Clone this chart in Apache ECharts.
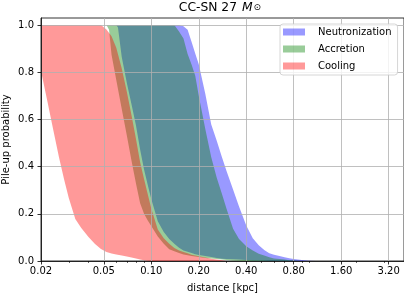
<!DOCTYPE html>
<html>
<head>
<meta charset="utf-8">
<script src="https://cdn.jsdelivr.net/npm/echarts@6/dist/echarts.min.js"></script>
<style>
html,body{margin:0;padding:0;background:#fff;}
#chart{width:404px;height:295px;}
</style>
</head>
<body>
<div id="chart"></div>
<script>
// ---- data ----
const xTickValues = [0.02, 0.05, 0.10, 0.20, 0.40, 0.80, 1.60, 3.20];
const xMinorTickValues = [0.03, 0.04, 0.06, 0.07, 0.08, 0.09, 0.3, 0.5, 0.6, 0.7, 0.9, 1, 2, 3];
const yTickValues = [0, 0.2, 0.4, 0.6, 0.8, 1.0];
const seriesNames = ['Neutronization', 'Accretion', 'Cooling'];

const neutronizationDistance = [0.06,0.0615,0.065,0.07,0.075,0.08,0.085,0.09,0.095,0.1,0.11,0.12,0.13,0.14,0.15,0.16,0.17,0.18,0.19,0.2,0.22,0.24,0.26,0.28,0.3,0.33,0.36,0.4,0.44,0.48,0.52,0.56,0.6,0.65,0.7,0.75,0.8,0.9,1.0,1.1];
const neutronizationLow = [1.0,0.99,0.865,0.754,0.663,0.574,0.473,0.388,0.322,0.263,0.168,0.123,0.093,0.073,0.056,0.044,0.039,0.034,0.029,0.025,0.021,0.017,0.013,0.01,0.009,0.007,0.006,0.004,0.0025,0.002,0.001,0,0,0,0,0,0,0,0,0];
const neutronizationHigh = [1,1,1,1,1,1,1,1,1,1,1,1,1,1,1,0.995,0.98,0.929,0.88,0.834,0.709,0.579,0.51,0.442,0.381,0.303,0.231,0.15,0.096,0.067,0.047,0.033,0.027,0.021,0.016,0.012,0.008,0.004,0.001,0];

const accretionDistance = [0.052,0.054,0.056,0.06,0.065,0.07,0.075,0.08,0.085,0.09,0.095,0.1,0.11,0.12,0.13,0.14,0.15,0.16,0.17,0.18,0.19,0.2,0.22,0.24,0.26,0.28,0.3,0.33,0.36,0.4,0.44,0.48,0.52,0.56,0.6,0.65,0.7,0.75,0.8,0.9];
const accretionLow = [1.0,0.98,0.874,0.767,0.644,0.532,0.424,0.328,0.245,0.2,0.172,0.148,0.104,0.073,0.05,0.041,0.034,0.028,0.024,0.021,0.019,0.017,0.013,0.011,0.008,0.006,0.004,0.0025,0.001,0,0,0,0,0,0,0,0,0,0,0];
const accretionHigh = [1,1,1,1,1,1,1,1,1,1,1,1,1,1,1,1,0.973,0.943,0.877,0.833,0.785,0.7,0.559,0.44,0.353,0.286,0.222,0.137,0.093,0.062,0.044,0.031,0.023,0.016,0.011,0.008,0.006,0.003,0.002,0];

const coolingDistance = [0.02,0.022,0.024,0.026,0.028,0.03,0.033,0.036,0.04,0.044,0.048,0.052,0.056,0.06,0.065,0.07,0.075,0.08,0.085,0.09,0.095,0.1,0.11,0.12,0.13,0.14,0.15,0.16,0.17,0.18,0.19,0.2,0.22,0.24,0.26,0.28,0.3];
const coolingLow = [0.805,0.674,0.551,0.44,0.347,0.267,0.178,0.14,0.102,0.072,0.051,0.038,0.032,0.028,0.023,0.019,0.015,0.011,0.006,0.003,0.001,0,0,0,0,0,0,0,0,0,0,0,0,0,0,0,0];
const coolingHigh = [1,1,1,1,1,1,1,1,1,1,1,0.981,0.953,0.904,0.816,0.717,0.617,0.517,0.419,0.348,0.283,0.223,0.133,0.096,0.073,0.055,0.044,0.038,0.033,0.027,0.023,0.02,0.015,0.01,0.006,0.003,0];

const colors = ['rgba(0,0,255,0.4)', 'rgba(0,128,0,0.4)', 'rgba(255,0,0,0.4)'];
const FONT = 'DejaVu Sans';

function bandSeries(name, dist, lo, hi, color) {
  return {
    type: 'custom',
    name: name,
    coordinateSystem: 'cartesian2d',
    clip: true,
    itemStyle: { color: color },
    encode: { x: 0, y: [1, 2] },
    data: dist.map((d, i) => [d, lo[i], hi[i]]),
    renderItem: function (params, api) {
      if (params.dataIndex !== 0) return null;
      const pts = [];
      for (let i = 0; i < dist.length; i++) pts.push(api.coord([dist[i], hi[i]]));
      for (let i = dist.length - 1; i >= 0; i--) pts.push(api.coord([dist[i], lo[i]]));
      return { type: 'polygon', shape: { points: pts }, style: { fill: color, stroke: null } };
    }
  };
}

const chart = echarts.init(document.getElementById('chart'), null, { renderer: 'canvas' });
chart.setOption({
  animation: false,
  backgroundColor: '#fff',
  title: {
    text: '{a|CC-SN 27}{m|M}{s|⊙}',
    left: 220, top: 1, padding: 0, textAlign: 'center',
    textStyle: {
      fontWeight: 'normal',
      rich: {
        a: { fontFamily: FONT, fontSize: 12.3, fontWeight: 'normal', color: '#000', lineHeight: 14 },
        m: { fontFamily: FONT, fontSize: 12.3, fontWeight: 'normal', fontStyle: 'italic', color: '#000', lineHeight: 14, padding: [0, 0, 0, 5] },
        s: { fontFamily: FONT, fontSize: 9, fontWeight: 'normal', color: '#000', lineHeight: 9, padding: [0, 0, 0, 1] }
      }
    }
  },
  legend: {
    orient: 'vertical', left: 280, top: 24,
    itemWidth: 22, itemHeight: 7, itemGap: 5,
    padding: [2, 6, 3, 3],
    backgroundColor: 'rgba(255,255,255,0.8)',
    borderColor: '#cccccc', borderWidth: 0.8, borderRadius: 3,
    selectedMode: false, z: 10,
    textStyle: { fontFamily: FONT, fontSize: 10, color: '#000', lineHeight: 12, padding: [0, 0, 0, 8] },
    data: seriesNames.map((n, i) => ({ name: n, icon: 'rect', itemStyle: { color: colors[i], borderWidth: 0 } }))
  },
  grid: { left: 41, right: 0, top: 18, bottom: 34, outerBoundsMode: 'none', containLabel: false, show: true, borderColor: '#000', borderWidth: 0.8, backgroundColor: 'transparent' },
  xAxis: [{
    type: 'log', logBase: 10, min: 0.02, max: 4, z: 3,
    name: 'distance [kpc]', nameLocation: 'middle', nameGap: 22,
    nameTextStyle: { fontFamily: FONT, fontSize: 10, color: '#000' },
    axisLine: { show: true, lineStyle: { color: '#000', width: 0.8 } },
    axisTick: { show: true, customValues: xTickValues, length: 3.5, lineStyle: { color: '#000', width: 0.8 } },
    axisLabel: { customValues: xTickValues, formatter: v => Number(v).toFixed(2), margin: 5, fontFamily: FONT, fontSize: 10, color: '#000' },
    splitLine: { show: true, lineStyle: { color: '#b0b0b0', width: 0.8 } },
    minorTick: { show: false }
  }, {
    type: 'log', logBase: 10, min: 0.02, max: 4, position: 'bottom', z: 3,
    axisLine: { show: false },
    axisTick: { show: true, customValues: xMinorTickValues, length: 2, lineStyle: { color: '#000', width: 0.6 } },
    axisLabel: { show: false },
    splitLine: { show: false }
  }],
  yAxis: {
    type: 'value', min: 0, max: 1.03, z: 3,
    name: 'Pile-up probability', nameLocation: 'middle', nameGap: 30, nameRotate: 90, nameMoveOverlap: false,
    nameTextStyle: { fontFamily: FONT, fontSize: 10, color: '#000' },
    axisLine: { show: true, lineStyle: { color: '#000', width: 0.8 } },
    axisTick: { show: true, customValues: yTickValues, length: 3.5, lineStyle: { color: '#000', width: 0.8 } },
    axisLabel: { customValues: yTickValues, formatter: v => Number(v).toFixed(1), margin: 7, fontFamily: FONT, fontSize: 10, color: '#000' },
    splitLine: { show: true, lineStyle: { color: '#b0b0b0', width: 0.8 } }
  },
  series: [
    bandSeries(seriesNames[0], neutronizationDistance, neutronizationLow, neutronizationHigh, colors[0]),
    bandSeries(seriesNames[1], accretionDistance, accretionLow, accretionHigh, colors[1]),
    bandSeries(seriesNames[2], coolingDistance, coolingLow, coolingHigh, colors[2])
  ]
});
</script>
</body>
</html>
